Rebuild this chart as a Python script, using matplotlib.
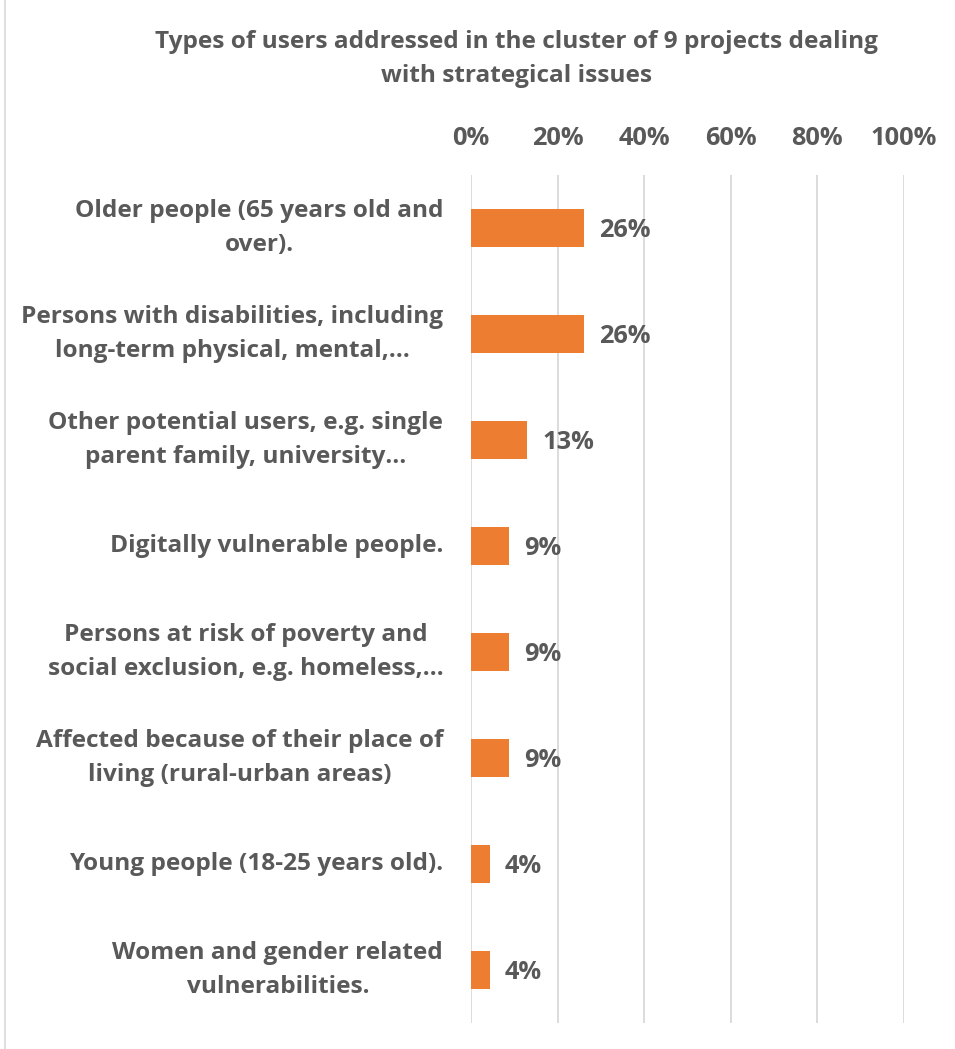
import matplotlib.pyplot as plt
from matplotlib.lines import Line2D
import numpy as np

plt.rcParams['font.family'] = ['Open Sans', 'DejaVu Sans']
plt.rcParams['font.weight'] = 'bold'

categories = [
    "Older people (65 years old and\nover).",
    "Persons with disabilities, including\nlong-term physical, mental,…",
    "Other potential users, e.g. single\nparent family, university…",
    "Digitally vulnerable people.",
    "Persons at risk of poverty and\nsocial exclusion, e.g. homeless,…",
    "Affected because of their place of\nliving (rural-urban areas)",
    "Young people (18-25 years old).",
    "Women and gender related\nvulnerabilities.",
]
values = [0.261, 0.261, 0.130, 0.087, 0.087, 0.087, 0.043, 0.043]
ticks = [0, 0.2, 0.4, 0.6, 0.8, 1.0]
tick_labels = ["0%", "20%", "40%", "60%", "80%", "100%"]

TEXT = "#595959"
BAR = "#ED7D31"
GRID = "#D9D9D9"
FS = 17.6
FS_NUM = 18.3

fig = plt.figure(figsize=(9.55, 10.49), dpi=100)
ax = fig.add_axes([0.4932, 0.0248, 0.4534, 0.8084])

y = np.arange(len(categories))
ax.barh(y, values, height=0.35, color=BAR, zorder=3)
for yi, v in zip(y, values):
    ax.text(v + 0.035, yi + 0.02, f"{v*100:.0f}%", va='center', ha='left',
            fontsize=FS_NUM, color=TEXT, fontweight='bold')

ax.set_xlim(0, 1)
ax.set_ylim(len(categories) - 0.5, -0.5)
ax.set_xticks(ticks)
ax.set_xticklabels(tick_labels)
ax.xaxis.tick_top()
ax.tick_params(axis='x', length=0, pad=17, labelsize=FS_NUM, labelcolor=TEXT)
ax.set_yticks(y)
ax.set_yticklabels(categories, multialignment='center', linespacing=1.6, va='center')
ax.tick_params(axis='y', length=0, pad=20, labelsize=FS, labelcolor=TEXT)
for t in ax.get_xticklabels() + ax.get_yticklabels():
    t.set_fontweight('bold')

ax.grid(axis='x', color=GRID, linewidth=1.3, zorder=0)
ax.grid(axis='y', visible=False)
for s in ax.spines.values():
    s.set_visible(False)

fig.text(0.541, 0.9438, "Types of users addressed in the cluster of 9 projects dealing\nwith strategical issues",
         ha='center', va='center', fontsize=FS, color=TEXT, fontweight='bold', linespacing=1.6)

fig.add_artist(Line2D([4.5 / 955, 4.5 / 955], [0.0, 1.0], color=GRID, linewidth=1.2))

fig.savefig("out.png", dpi=100)
